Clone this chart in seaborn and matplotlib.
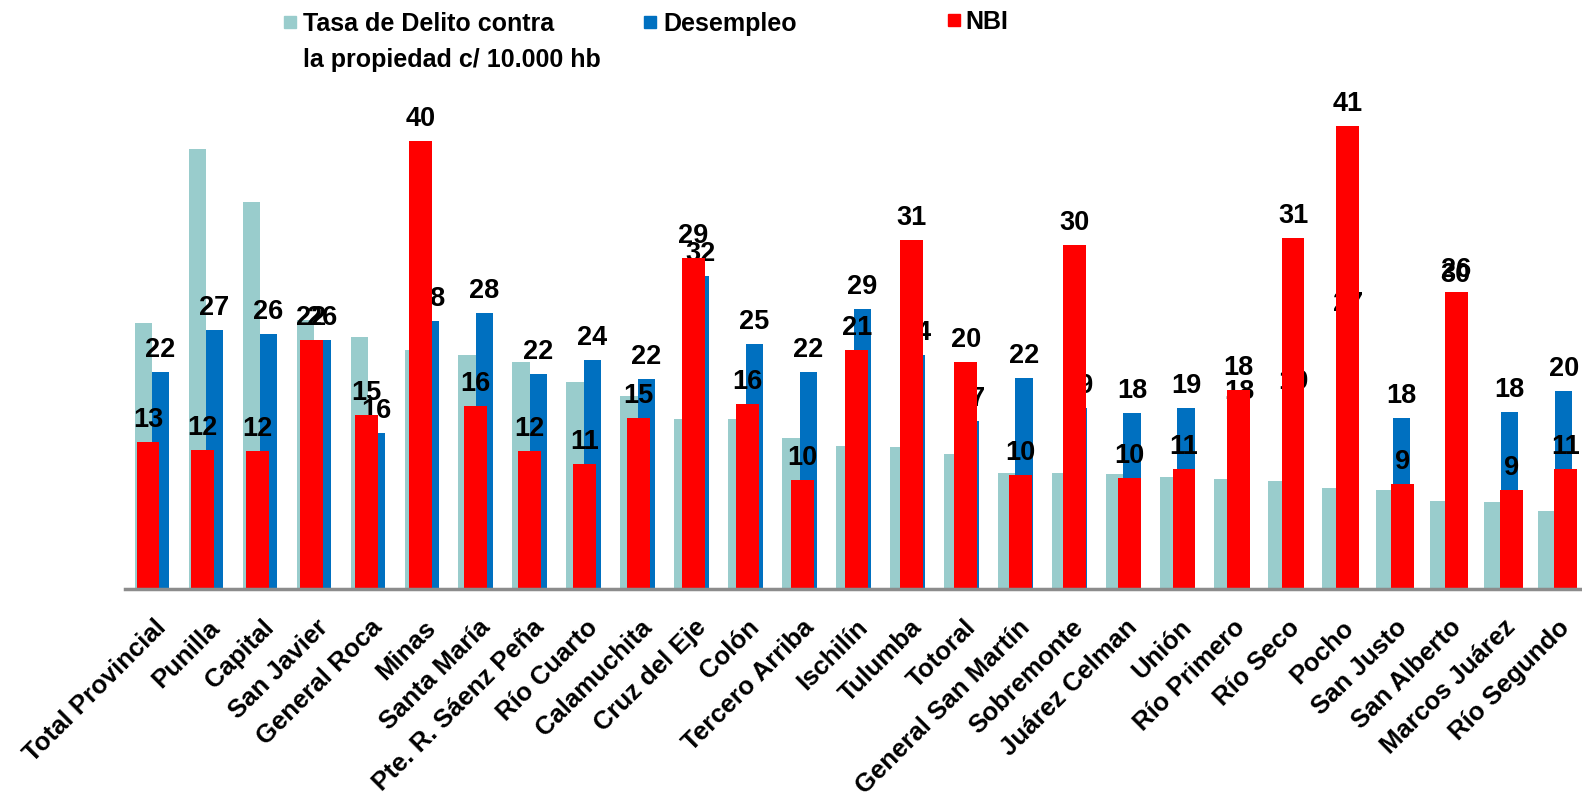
import matplotlib
matplotlib.use("Agg")
import matplotlib.pyplot as plt
import matplotlib.transforms as mtransforms
from matplotlib.patches import Rectangle
import seaborn as sns
import pandas as pd

# departamentos, ordenados por tasa de delito
departamentos = ["Total Provincial", "Punilla", "Capital", "San Javier", "General Roca",
                 "Minas", "Santa María", "Pte. R. Sáenz Peña", "Río Cuarto", "Calamuchita",
                 "Cruz del Eje", "Colón", "Tercero Arriba", "Ischilín", "Tulumba", "Totoral",
                 "General San Martín", "Sobremonte", "Juárez Celman", "Unión", "Río Primero",
                 "Río Seco", "Pocho", "San Justo", "San Alberto", "Marcos Juárez", "Río Segundo"]

delito = [27.4, 45.3, 39.8, 27.7, 25.9, 24.6, 24.1, 23.4, 21.3, 19.9, 17.5, 17.5, 15.5, 14.7,
          14.6, 13.9, 11.9, 11.9, 11.8, 11.5, 11.3, 11.1, 10.4, 10.2, 9.1, 9.0, 8.0]
desempleo = [22.3, 26.6, 26.2, 25.6, 16.05, 27.6, 28.4, 22.1, 23.6, 21.6, 32.2, 25.2, 22.3, 28.8,
             24.1, 17.3, 21.7, 18.6, 18.1, 18.6, 18.0, 19.0, 27.0, 17.6, 30.0, 18.2, 20.4]
nbi = [13.0, 12.3, 12.2, 22.0, 15.4, 39.6, 16.2, 12.2, 11.05, 15.1, 29.3, 16.4, 9.6, 21.1,
       30.9, 20.1, 10.1, 30.4, 9.8, 10.6, 17.6, 31.0, 40.9, 9.3, 26.3, 8.75, 10.6]

series = ["Tasa de Delito contra la propiedad c/ 10.000 hb", "Desempleo"]
TEAL, BLUE, RED = "#99CCCC", "#0070C0", "#FF0000"

sns.set_style("white")
plt.rcParams["font.family"] = ["Liberation Sans", "DejaVu Sans"]
plt.rcParams["text.color"] = "black"
plt.rcParams["xtick.color"] = "black"

W, H = 1582, 797
fig = plt.figure(figsize=(W / 100, H / 100), dpi=100)
rect = [125 / W, (H - 589) / H, 1457 / W, 489 / H]

# delito y desempleo, lado a lado
ax = fig.add_axes(rect)
df = pd.DataFrame({
    "Departamento": departamentos * 2,
    "valor": delito + desempleo,
    "serie": [series[0]] * len(departamentos) + [series[1]] * len(departamentos),
})
sns.barplot(data=df, x="Departamento", y="valor", hue="serie", hue_order=series,
            order=departamentos, palette=[TEAL, BLUE], width=0.64, gap=0, saturation=1,
            errorbar=None, legend=False, linewidth=0, edgecolor="none", ax=ax)
ax.bar_label(ax.containers[1], labels=[f"{v:.0f}" for v in desempleo],
             padding=6.5, fontsize=19.5, fontweight="bold", color="black")
ax.set_xlim(-0.5, 26.5)
ax.set_ylim(0, 50.3)
ax.set_yticks([])
ax.set_xlabel("")
ax.set_ylabel("")
for s in ax.spines.values():
    s.set_visible(False)
ax.tick_params(axis="x", length=0, pad=19)
ax.set_xticks(range(len(departamentos)))
ax.set_xticklabels(departamentos, rotation=45, ha="right", va="top",
                   rotation_mode="anchor", fontsize=18.5, fontweight="bold", color="black")
shift = mtransforms.ScaledTranslation(2 / 100, 0, fig.dpi_scale_trans)
for lbl in ax.get_xticklabels():
    lbl.set_transform(lbl.get_transform() + shift)

# NBI encima, en su propio eje
ax2 = fig.add_axes(rect, facecolor="none")
sns.barplot(x=departamentos, y=nbi, color=RED, width=0.42, saturation=1,
            errorbar=None, linewidth=0, edgecolor="none", ax=ax2)
ax2.bar_label(ax2.containers[0], labels=[f"{v:.0f}" for v in nbi],
              padding=6.5, fontsize=19.5, fontweight="bold", color="black")
ax2.set_xlim(-0.4219, 26.30)
ax2.set_ylim(0, 43.24)
ax2.set_xticks([])
ax2.set_yticks([])
for k, s in ax2.spines.items():
    s.set_visible(k == "bottom")
ax2.spines["bottom"].set_color("#8C8C8C")
ax2.spines["bottom"].set_linewidth(2.5)

# leyenda
def key(x, y, color):
    fig.add_artist(Rectangle((x / W, 1 - (y + 12) / H), 12 / W, 12 / H,
                             transform=fig.transFigure, color=color))

key(284, 16, TEAL)
key(644, 16, BLUE)
key(948, 14, RED)
fig.text(303 / W, 1 - 31 / H, "Tasa de Delito contra", fontsize=18, fontweight="bold", va="baseline")
fig.text(303 / W, 1 - 67 / H, "la propiedad c/ 10.000 hb", fontsize=18, fontweight="bold", va="baseline")
fig.text(663 / W, 1 - 31 / H, "Desempleo", fontsize=18, fontweight="bold", va="baseline")
fig.text(965 / W, 1 - 29 / H, "NBI", fontsize=18, fontweight="bold", va="baseline")

fig.savefig("out.png", dpi=100)
